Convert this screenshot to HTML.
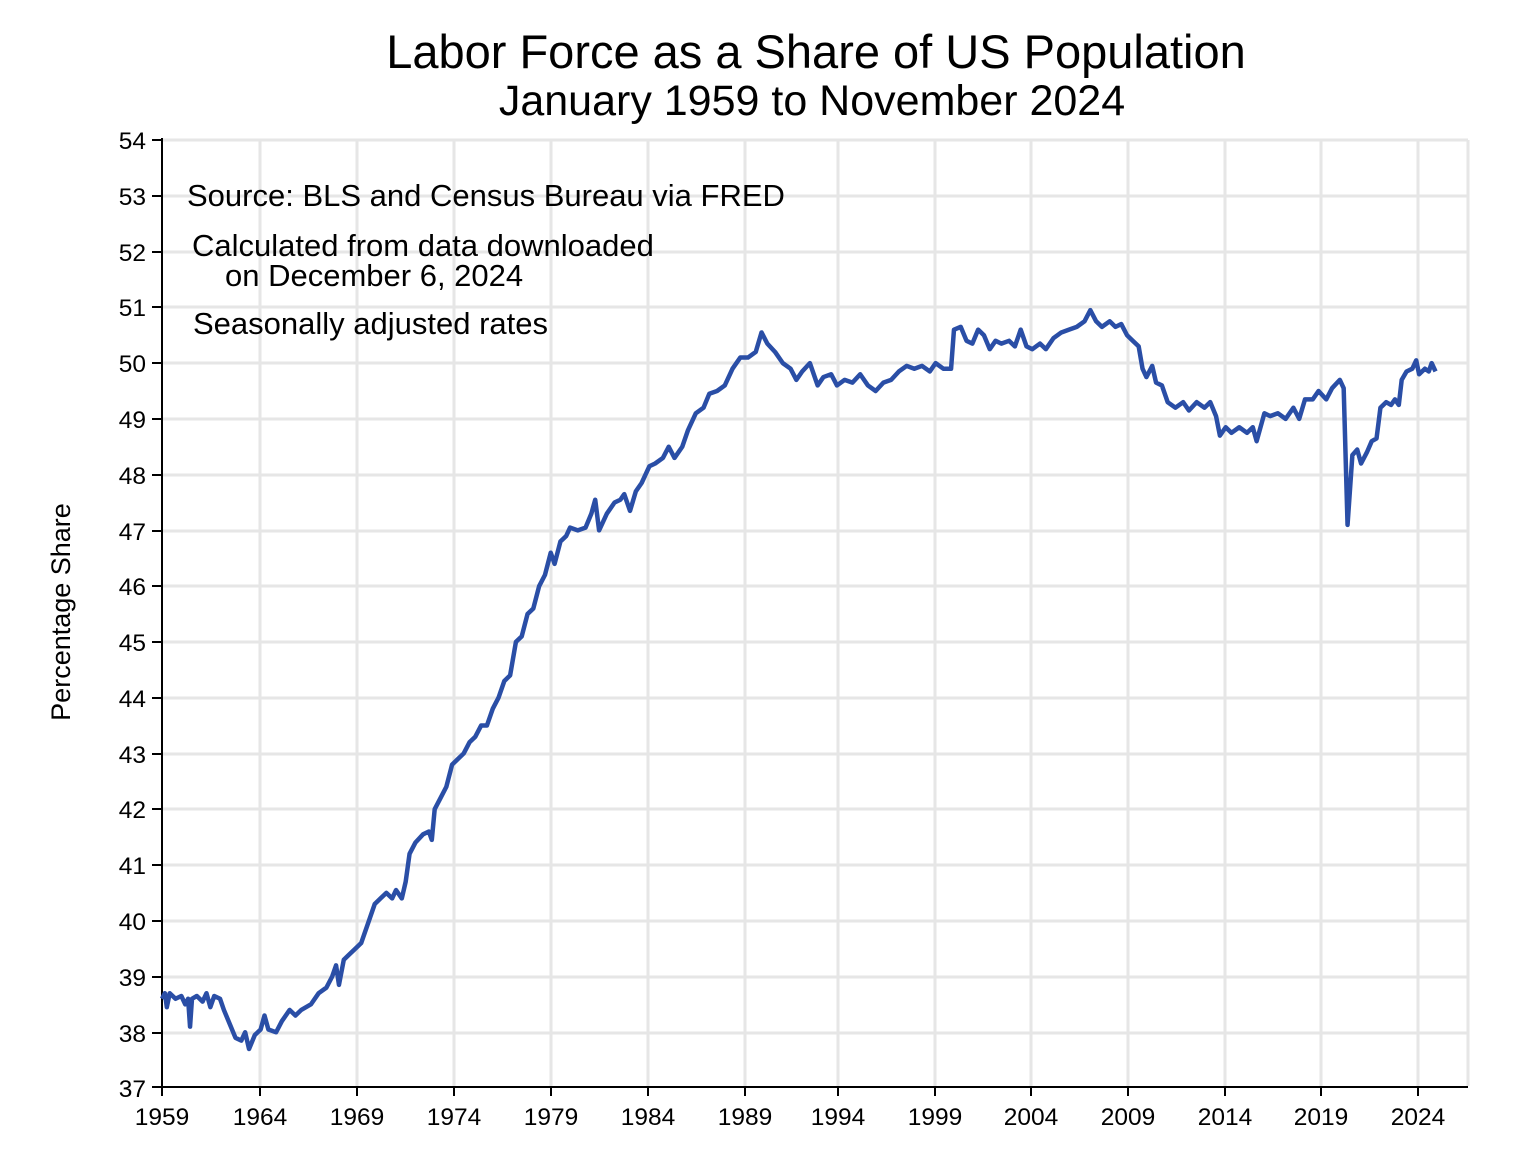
<!DOCTYPE html>
<html><head><meta charset="utf-8"><style>
html,body{margin:0;padding:0;background:#fff}
svg{display:block;font-family:"Liberation Sans",Arial,sans-serif}
</style></head><body>
<svg width="1534" height="1168" viewBox="0 0 1534 1168" xmlns="http://www.w3.org/2000/svg">
<rect width="1534" height="1168" fill="#fff"/>
<g stroke="#e6e6e6" stroke-width="3">
<line x1="162" y1="140" x2="1468" y2="140"/><line x1="162" y1="196" x2="1468" y2="196"/><line x1="162" y1="252" x2="1468" y2="252"/><line x1="162" y1="307" x2="1468" y2="307"/><line x1="162" y1="363" x2="1468" y2="363"/><line x1="162" y1="419" x2="1468" y2="419"/><line x1="162" y1="475" x2="1468" y2="475"/><line x1="162" y1="531" x2="1468" y2="531"/><line x1="162" y1="586" x2="1468" y2="586"/><line x1="162" y1="642" x2="1468" y2="642"/><line x1="162" y1="698" x2="1468" y2="698"/><line x1="162" y1="754" x2="1468" y2="754"/><line x1="162" y1="809" x2="1468" y2="809"/><line x1="162" y1="865" x2="1468" y2="865"/><line x1="162" y1="921" x2="1468" y2="921"/><line x1="162" y1="977" x2="1468" y2="977"/><line x1="162" y1="1033" x2="1468" y2="1033"/>
<line x1="260" y1="140" x2="260" y2="1086"/><line x1="357" y1="140" x2="357" y2="1086"/><line x1="454" y1="140" x2="454" y2="1086"/><line x1="551" y1="140" x2="551" y2="1086"/><line x1="648" y1="140" x2="648" y2="1086"/><line x1="745" y1="140" x2="745" y2="1086"/><line x1="838" y1="140" x2="838" y2="1086"/><line x1="935" y1="140" x2="935" y2="1086"/><line x1="1031" y1="140" x2="1031" y2="1086"/><line x1="1128" y1="140" x2="1128" y2="1086"/><line x1="1225" y1="140" x2="1225" y2="1086"/><line x1="1321" y1="140" x2="1321" y2="1086"/><line x1="1418" y1="140" x2="1418" y2="1086"/><line x1="1468" y1="140" x2="1468" y2="1086"/>
</g>
<g stroke="#000" stroke-width="2">
<line x1="162" y1="138" x2="162" y2="1088"/><line x1="160" y1="1087" x2="1468" y2="1087"/>
<line x1="152" y1="140" x2="162" y2="140"/><line x1="152" y1="196" x2="162" y2="196"/><line x1="152" y1="252" x2="162" y2="252"/><line x1="152" y1="307" x2="162" y2="307"/><line x1="152" y1="363" x2="162" y2="363"/><line x1="152" y1="419" x2="162" y2="419"/><line x1="152" y1="475" x2="162" y2="475"/><line x1="152" y1="531" x2="162" y2="531"/><line x1="152" y1="586" x2="162" y2="586"/><line x1="152" y1="642" x2="162" y2="642"/><line x1="152" y1="698" x2="162" y2="698"/><line x1="152" y1="754" x2="162" y2="754"/><line x1="152" y1="809" x2="162" y2="809"/><line x1="152" y1="865" x2="162" y2="865"/><line x1="152" y1="921" x2="162" y2="921"/><line x1="152" y1="977" x2="162" y2="977"/><line x1="152" y1="1033" x2="162" y2="1033"/><line x1="152" y1="1087" x2="162" y2="1087"/>
<line x1="162" y1="1087" x2="162" y2="1096"/><line x1="260" y1="1087" x2="260" y2="1096"/><line x1="357" y1="1087" x2="357" y2="1096"/><line x1="454" y1="1087" x2="454" y2="1096"/><line x1="551" y1="1087" x2="551" y2="1096"/><line x1="648" y1="1087" x2="648" y2="1096"/><line x1="745" y1="1087" x2="745" y2="1096"/><line x1="838" y1="1087" x2="838" y2="1096"/><line x1="935" y1="1087" x2="935" y2="1096"/><line x1="1031" y1="1087" x2="1031" y2="1096"/><line x1="1128" y1="1087" x2="1128" y2="1096"/><line x1="1225" y1="1087" x2="1225" y2="1096"/><line x1="1321" y1="1087" x2="1321" y2="1096"/><line x1="1418" y1="1087" x2="1418" y2="1096"/>
</g>
<g font-size="24.5" text-anchor="end" fill="#000">
<text x="146" y="149">54</text><text x="146" y="205">53</text><text x="146" y="261">52</text><text x="146" y="316">51</text><text x="146" y="372">50</text><text x="146" y="428">49</text><text x="146" y="484">48</text><text x="146" y="540">47</text><text x="146" y="595">46</text><text x="146" y="651">45</text><text x="146" y="707">44</text><text x="146" y="763">43</text><text x="146" y="818">42</text><text x="146" y="874">41</text><text x="146" y="930">40</text><text x="146" y="986">39</text><text x="146" y="1042">38</text><text x="146" y="1097">37</text>
</g>
<g font-size="24.5" text-anchor="middle" fill="#000">
<text x="162" y="1125">1959</text><text x="260" y="1125">1964</text><text x="357" y="1125">1969</text><text x="454" y="1125">1974</text><text x="551" y="1125">1979</text><text x="648" y="1125">1984</text><text x="745" y="1125">1989</text><text x="838" y="1125">1994</text><text x="935" y="1125">1999</text><text x="1031" y="1125">2004</text><text x="1128" y="1125">2009</text><text x="1225" y="1125">2014</text><text x="1321" y="1125">2019</text><text x="1418" y="1125">2024</text>
</g>
<text x="816" y="68" font-size="47" text-anchor="middle">Labor Force as a Share of US Population</text>
<text x="812" y="115" font-size="43" text-anchor="middle">January 1959 to November 2024</text>
<text x="70" y="612" font-size="27" text-anchor="middle" transform="rotate(-90 70 612)">Percentage Share</text>
<g font-size="31" fill="#000">
<text x="187" y="206">Source: BLS and Census Bureau via FRED</text>
<text x="192" y="256">Calculated from data downloaded</text>
<text x="225" y="286">on December 6, 2024</text>
<text x="193" y="334">Seasonally adjusted rates</text>
</g>
<g transform="translate(162,1088) scale(19.34,-55.76) translate(0,-37)">
<polyline fill="none" stroke="#2a4ea6" stroke-width="4.5" stroke-linejoin="round" vector-effect="non-scaling-stroke" points="0,38.6 0.15,38.7 0.25,38.45 0.4,38.7 0.7,38.6 1,38.65 1.2,38.5 1.35,38.6 1.45,38.1 1.55,38.6 1.8,38.65 2.1,38.55 2.3,38.7 2.5,38.45 2.7,38.65 3,38.6 3.2,38.4 3.5,38.15 3.8,37.9 4.1,37.85 4.3,38.0 4.5,37.7 4.8,37.95 5.1,38.05 5.3,38.3 5.5,38.05 5.9,38.0 6.2,38.2 6.6,38.4 6.9,38.3 7.2,38.4 7.7,38.5 8.1,38.7 8.5,38.8 8.8,39.0 9.0,39.2 9.15,38.85 9.4,39.3 9.7,39.4 10.0,39.5 10.3,39.6 10.7,40.0 11.0,40.3 11.3,40.4 11.6,40.5 11.9,40.4 12.1,40.55 12.4,40.4 12.6,40.7 12.8,41.2 13.1,41.4 13.5,41.55 13.8,41.6 13.95,41.45 14.1,42.0 14.4,42.2 14.7,42.4 15.0,42.8 15.3,42.9 15.6,43.0 15.9,43.2 16.2,43.3 16.5,43.5 16.8,43.5 17.1,43.8 17.4,44.0 17.7,44.3 18.0,44.4 18.3,45.0 18.6,45.1 18.9,45.5 19.2,45.6 19.5,46.0 19.8,46.2 20.1,46.6 20.3,46.4 20.6,46.8 20.9,46.9 21.1,47.05 21.5,47.0 21.9,47.05 22.2,47.3 22.4,47.55 22.6,47.0 23.0,47.3 23.4,47.5 23.7,47.55 23.9,47.65 24.2,47.35 24.5,47.7 24.8,47.85 25.2,48.15 25.5,48.2 25.9,48.3 26.2,48.5 26.5,48.3 26.9,48.5 27.2,48.8 27.6,49.1 28.0,49.2 28.3,49.45 28.7,49.5 29.1,49.6 29.5,49.9 29.9,50.1 30.3,50.1 30.7,50.2 31.0,50.55 31.3,50.35 31.7,50.2 32.1,50.0 32.5,49.9 32.8,49.7 33.1,49.85 33.5,50.0 33.9,49.6 34.2,49.75 34.6,49.8 34.9,49.6 35.3,49.7 35.7,49.65 36.1,49.8 36.5,49.6 36.9,49.5 37.3,49.65 37.7,49.7 38.1,49.85 38.5,49.95 38.9,49.9 39.3,49.95 39.7,49.85 40.0,50.0 40.4,49.9 40.8,49.9 40.95,50.6 41.3,50.65 41.6,50.4 41.9,50.35 42.2,50.6 42.5,50.5 42.8,50.25 43.1,50.4 43.4,50.35 43.8,50.4 44.1,50.3 44.4,50.6 44.7,50.3 45.0,50.25 45.4,50.35 45.7,50.25 46.1,50.45 46.5,50.55 46.9,50.6 47.3,50.65 47.7,50.75 48.0,50.95 48.3,50.75 48.6,50.65 49.0,50.75 49.3,50.65 49.6,50.7 49.9,50.5 50.2,50.4 50.5,50.3 50.7,49.9 50.9,49.75 51.2,49.95 51.4,49.65 51.7,49.6 52.0,49.3 52.4,49.2 52.8,49.3 53.1,49.15 53.5,49.3 53.9,49.2 54.2,49.3 54.5,49.05 54.7,48.7 55.0,48.85 55.3,48.75 55.7,48.85 56.1,48.75 56.4,48.85 56.6,48.6 57.0,49.1 57.3,49.05 57.7,49.1 58.1,49.0 58.5,49.2 58.8,49.0 59.1,49.35 59.5,49.35 59.8,49.5 60.2,49.35 60.5,49.55 60.9,49.7 61.1,49.55 61.3,47.1 61.55,48.35 61.8,48.45 62.0,48.2 62.3,48.4 62.55,48.6 62.8,48.65 63.0,49.2 63.3,49.3 63.55,49.25 63.75,49.35 63.95,49.25 64.1,49.7 64.35,49.85 64.65,49.9 64.85,50.05 65.0,49.8 65.3,49.9 65.5,49.85 65.65,50.0 65.85,49.85"/>
</g>
</svg>
</body></html>
